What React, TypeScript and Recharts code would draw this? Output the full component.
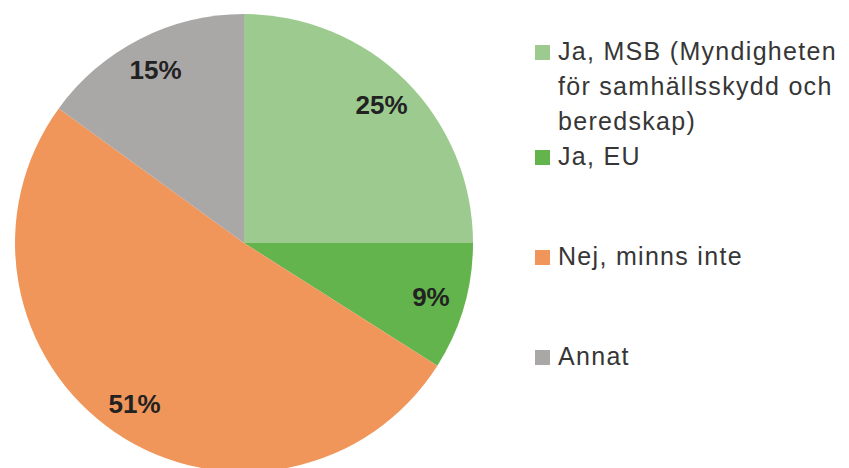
import React from "react";
import { PieChart, Pie, Cell } from "recharts";

const categories = [
  "Ja, MSB (Myndigheten för samhällsskydd och beredskap)",
  "Ja, EU",
  "Nej, minns inte",
  "Annat",
];
const values = [25, 9, 51, 15];
const colors = ["#9dcb8f", "#63b44c", "#f0965a", "#aaa7a7"];

const data = categories.map((name, i) => ({ name, value: values[i] }));

const RAD = Math.PI / 180;
const renderLabel = (props: any) => {
  const { cx, cy, midAngle, outerRadius, value } = props;
  const r = outerRadius * 0.85;
  const x = cx + r * Math.cos(-midAngle * RAD);
  const y = cy + r * Math.sin(-midAngle * RAD);
  return (
    <text
      x={x}
      y={y}
      fill="#222222"
      textAnchor="middle"
      dominantBaseline="central"
      style={{ fontFamily: "Liberation Sans, Arial, sans-serif", fontWeight: 700, fontSize: 26 }}
    >
      {`${value}%`}
    </text>
  );
};

const ChartLegend = () => (
  <div
    style={{
      position: "absolute",
      left: 535,
      top: 34,
      width: 314,
      fontFamily: "Liberation Sans, Arial, sans-serif",
      fontSize: 25,
      letterSpacing: 1.3,
      color: "#363636",
      lineHeight: "35px",
    }}
  >
    {data.map((d, i) => (
      <div key={d.name} style={{ position: "relative", minHeight: 100, paddingLeft: 23 }}>
        <span
          style={{
            position: "absolute",
            left: 0,
            top: 11,
            width: 15,
            height: 15,
            background: colors[i],
          }}
        />
        <span style={{ display: "block", width: 291 }}>{d.name}</span>
      </div>
    ))}
  </div>
);

export default function App() {
  return (
    <div style={{ position: "fixed", left: 0, top: 0, width: 849, height: 468, background: "#fff" }}>
      <PieChart width={849} height={468} margin={{ top: 0, right: 0, bottom: 0, left: 0 }}>
        <Pie
          data={data}
          dataKey="value"
          nameKey="name"
          cx={244}
          cy={243}
          outerRadius={229}
          startAngle={90}
          endAngle={-270}
          stroke="none"
          label={renderLabel}
          labelLine={false}
          isAnimationActive={false}
        >
          {data.map((d, i) => (
            <Cell key={d.name} fill={colors[i]} />
          ))}
        </Pie>
      </PieChart>
      <ChartLegend />
    </div>
  );
}
